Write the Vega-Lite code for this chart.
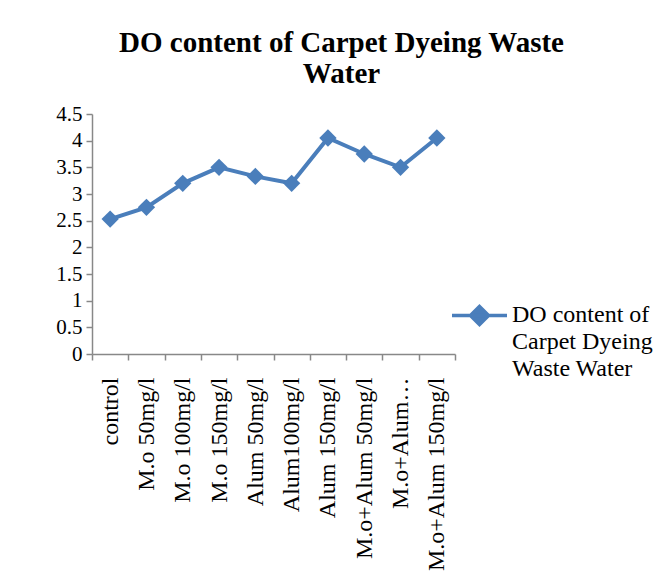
{
  "$schema": "https://vega.github.io/schema/vega-lite/v6.json",
  "width": 363,
  "height": 240,
  "autosize": "none",
  "padding": {"left": 92, "top": 114, "right": 217, "bottom": 231},
  "background": "white",
  "title": {
    "text": ["DO content of Carpet Dyeing Waste", "Water"],
    "font": "Liberation Serif, Times New Roman, serif",
    "fontSize": 29,
    "fontWeight": "bold",
    "color": "black",
    "anchor": "middle",
    "frame": "group",
    "lineHeight": 31,
    "dx": 68,
    "offset": 14
  },
  "data": {
    "values": [
      {"treatment": "control", "do": 2.53, "series": "DO content of Carpet Dyeing Waste Water"},
      {"treatment": "M.o 50mg/l", "do": 2.75, "series": "DO content of Carpet Dyeing Waste Water"},
      {"treatment": "M.o 100mg/l", "do": 3.2, "series": "DO content of Carpet Dyeing Waste Water"},
      {"treatment": "M.o 150mg/l", "do": 3.5, "series": "DO content of Carpet Dyeing Waste Water"},
      {"treatment": "Alum 50mg/l", "do": 3.33, "series": "DO content of Carpet Dyeing Waste Water"},
      {"treatment": "Alum100mg/l", "do": 3.2, "series": "DO content of Carpet Dyeing Waste Water"},
      {"treatment": "Alum 150mg/l", "do": 4.05, "series": "DO content of Carpet Dyeing Waste Water"},
      {"treatment": "M.o+Alum 50mg/l", "do": 3.75, "series": "DO content of Carpet Dyeing Waste Water"},
      {"treatment": "M.o+Alum 100mg/l", "do": 3.5, "series": "DO content of Carpet Dyeing Waste Water"},
      {"treatment": "M.o+Alum 150mg/l", "do": 4.05, "series": "DO content of Carpet Dyeing Waste Water"}
    ]
  },
  "encoding": {
    "x": {
      "field": "treatment",
      "type": "nominal",
      "sort": null,
      "scale": {"type": "band", "paddingInner": 0, "paddingOuter": 0},
      "axis": {
        "title": null,
        "tickBand": "extent",
        "labelAngle": -90,
        "labelAlign": "right",
        "labelBaseline": "middle",
        "labelPadding": 17,
        "labelLimit": 300,
        "labelExpr": "datum.label == 'M.o+Alum 100mg/l' ? 'M.o+Alum\u2026' : datum.label"
      }
    },
    "y": {
      "field": "do",
      "type": "quantitative",
      "scale": {"domain": [0, 4.5], "nice": false, "zero": true},
      "axis": {
        "title": null,
        "values": [0, 0.5, 1, 1.5, 2, 2.5, 3, 3.5, 4, 4.5],
        "format": ".1~f",
        "labelPadding": 4
      }
    },
    "color": {
      "field": "series",
      "type": "nominal",
      "scale": {"range": ["#4a7ebb"]},
      "legend": {
        "title": null,
        "orient": "none",
        "legendX": 358,
        "legendY": 172,
        "labelExpr": "['DO content of', 'Carpet Dyeing', 'Waste Water']",
        "labelFont": "Liberation Serif, Times New Roman, serif",
        "labelFontSize": 24,
        "labelColor": "black",
        "labelBaseline": "top",
        "labelOffset": 3,
        "labelLimit": 300,
        "symbolSize": 3025,
        "symbolStrokeWidth": 3.5,
        "encode": {
          "symbols": {
            "update": {
              "shape": {"value": "M-1,0H1M0,-0.33L0.33,0L0,0.33L-0.33,0Z"},
              "fill": {"value": "#4a7ebb"},
              "stroke": {"value": "#4a7ebb"},
              "strokeWidth": {"value": 3.5}
            }
          },
          "labels": {
            "update": {
              "lineHeight": {"value": 27},
              "dy": {"value": -13}
            }
          }
        }
      }
    }
  },
  "layer": [
    {"mark": {"type": "line", "strokeWidth": 4}},
    {"mark": {"type": "point", "shape": "diamond", "filled": true, "size": 300, "opacity": 1}}
  ],
  "config": {
    "view": {"stroke": null},
    "axis": {
      "grid": false,
      "domainColor": "#888888",
      "domainWidth": 1.5,
      "tickColor": "#888888",
      "tickWidth": 1.5,
      "tickSize": 6,
      "labelFont": "Liberation Serif, Times New Roman, serif",
      "labelFontSize": 21,
      "labelColor": "black"
    },
    "axisX": {"labelFontSize": 24}
  }
}
